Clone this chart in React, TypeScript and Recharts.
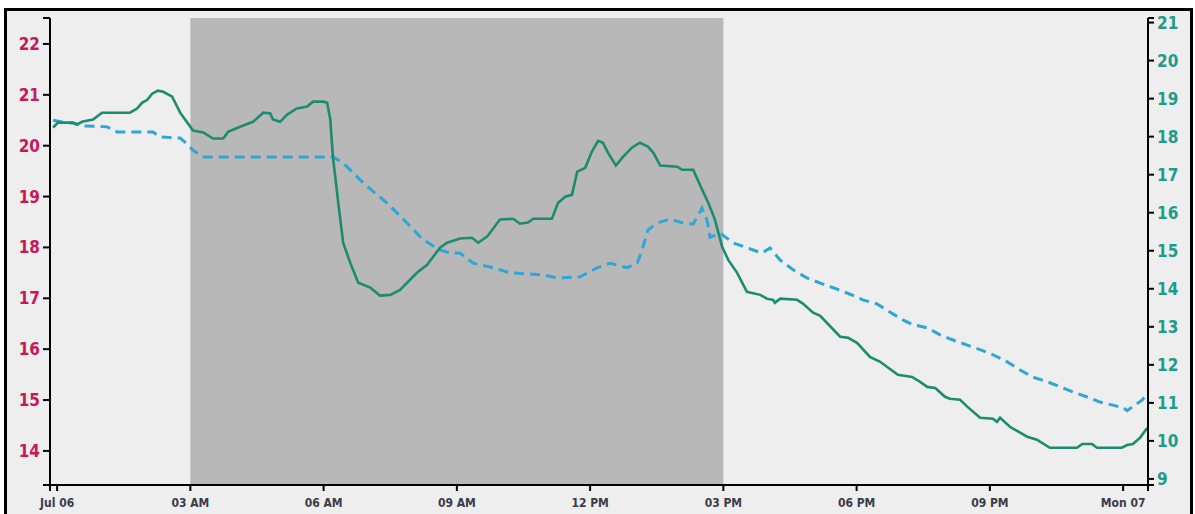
import React from 'react';
import { ComposedChart, Line, XAxis, YAxis, ReferenceArea } from 'recharts';

// Hours since Jul 06 00:00
const xTickHours = [0, 3, 6, 9, 12, 15, 18, 21, 24];
const xTickLabels = ['Jul 06', '03 AM', '06 AM', '09 AM', '12 PM', '03 PM', '06 PM', '09 PM', 'Mon 07'];
const leftTicks = [14, 15, 16, 17, 18, 19, 20, 21, 22];
const rightTicks = [9, 10, 11, 12, 13, 14, 15, 16, 17, 18, 19, 20, 21];

const xDomain: [number, number] = [-0.16, 24.56];
const leftDomain: [number, number] = [13.33, 22.51];
const rightDomain: [number, number] = [8.84, 21.12];

const shadeStart = 3;
const shadeEnd = 15;

// Solid green series (right axis)
const greenHours = [
  -0.09, 0.02, 0.36, 0.45, 0.56, 0.81, 1.01, 1.64, 1.8, 1.91, 2.03, 2.14, 2.27, 2.39, 2.59, 2.77, 2.93,
  3.06, 3.29, 3.51, 3.74, 3.85, 4.12, 4.41, 4.64, 4.8, 4.86, 5.02, 5.18, 5.4, 5.63, 5.76, 5.99, 6.08,
  6.15, 6.21, 6.33, 6.44, 6.6, 6.78, 7.05, 7.27, 7.5, 7.72, 8.1, 8.33, 8.62, 8.78, 9.07, 9.34, 9.48,
  9.68, 9.97, 10.27, 10.42, 10.6, 10.72, 11.14, 11.28, 11.44, 11.59, 11.71, 11.89, 12.04, 12.18, 12.29,
  12.4, 12.58, 12.74, 12.94, 13.12, 13.3, 13.42, 13.58, 13.96, 14.07, 14.32, 14.52, 14.66, 14.81, 14.97,
  15.11, 15.31, 15.53, 15.83, 15.98, 16.12, 16.16, 16.28, 16.66, 16.79, 17.02, 17.18, 17.63, 17.81,
  18.01, 18.3, 18.53, 18.75, 18.93, 19.25, 19.43, 19.59, 19.77, 19.99, 20.1, 20.33, 20.49, 20.78,
  21.07, 21.16, 21.23, 21.45, 21.84, 22.06, 22.35, 22.96, 23.08, 23.3, 23.41, 23.97, 24.09, 24.22,
  24.38, 24.54,
];
const greenValues = [
  18.24, 18.37, 18.37, 18.32, 18.39, 18.45, 18.63, 18.63, 18.74, 18.89, 18.97, 19.13, 19.21, 19.18,
  19.05, 18.63, 18.37, 18.16, 18.11, 17.95, 17.95, 18.13, 18.26, 18.39, 18.63, 18.61, 18.45, 18.39,
  18.58, 18.74, 18.79, 18.92, 18.92, 18.89, 18.45, 17.47, 16.26, 15.21, 14.68, 14.16, 14.03, 13.82,
  13.84, 13.97, 14.42, 14.63, 15.08, 15.21, 15.32, 15.34, 15.21, 15.37, 15.82, 15.84, 15.71, 15.74,
  15.84, 15.84, 16.26, 16.42, 16.47, 17.08, 17.18, 17.61, 17.89, 17.84, 17.58, 17.24, 17.47, 17.71,
  17.84, 17.74, 17.58, 17.24, 17.21, 17.13, 17.13, 16.61, 16.26, 15.82, 15.11, 14.76, 14.42, 13.92,
  13.84, 13.74, 13.71, 13.63, 13.74, 13.71, 13.61, 13.37, 13.29, 12.74, 12.71, 12.58, 12.21, 12.08,
  11.89, 11.74, 11.68, 11.55, 11.42, 11.39, 11.16, 11.11, 11.08, 10.9, 10.61, 10.58, 10.5, 10.61,
  10.37, 10.11, 10.03, 9.82, 9.82, 9.92, 9.92, 9.82, 9.82, 9.89, 9.92, 10.08, 10.34,
];

// Dashed blue series (left axis)
const blueHours = [
  -0.09, 0.14, 0.36, 0.59, 1.13, 1.35, 2.16, 2.32, 2.77, 2.93, 3.06, 3.29, 3.51, 6.21, 6.44, 6.89, 7.43,
  7.88, 8.24, 8.62, 8.85, 9.07, 9.37, 9.82, 10.2, 10.94, 11.26, 11.77, 12.16, 12.45, 12.83, 13.06,
  13.17, 13.3, 13.51, 13.8, 14.09, 14.32, 14.52, 14.63, 14.7, 14.93, 15.22, 15.67, 15.87, 16.05, 16.28,
  16.57, 16.88, 17.18, 17.56, 17.85, 18.14, 18.46, 18.75, 19.05, 19.27, 19.59, 19.88, 20.17, 20.49,
  20.78, 21.07, 21.39, 21.68, 21.97, 22.29, 22.58, 22.87, 23.19, 23.48, 23.86, 23.99, 24.09, 24.27,
  24.43, 24.56,
];
const blueValues = [
  20.5, 20.46, 20.44, 20.39, 20.37, 20.27, 20.27, 20.17, 20.15, 20.03, 19.91, 19.78, 19.78, 19.78,
  19.66, 19.27, 18.87, 18.48, 18.15, 17.95, 17.89, 17.89, 17.69, 17.6, 17.5, 17.46, 17.4, 17.42, 17.6,
  17.69, 17.6, 17.69, 17.95, 18.34, 18.48, 18.56, 18.48, 18.46, 18.77, 18.54, 18.2, 18.28, 18.09,
  17.95, 17.89, 17.99, 17.75, 17.56, 17.4, 17.3, 17.18, 17.08, 16.97, 16.89, 16.73, 16.57, 16.48,
  16.42, 16.28, 16.18, 16.08, 15.99, 15.89, 15.75, 15.59, 15.45, 15.36, 15.26, 15.16, 15.06, 14.96,
  14.88, 14.86, 14.79, 14.9, 15.0, 15.16,
];

const greenData = greenHours.map((h, i) => ({ h, v: greenValues[i] }));
const blueData = blueHours.map((h, i) => ({ h, v: blueValues[i] }));

const FONT = "'DejaVu Sans Condensed', 'Liberation Sans Narrow', Roboto, 'DejaVu Sans', sans-serif";

const xTicksAll = [xDomain[0], ...xTickHours, xDomain[1]];
const leftTicksAll = [leftDomain[0], ...leftTicks, leftDomain[1]];
const rightTicksAll = [rightDomain[0], ...rightTicks, rightDomain[1]];

const xFmt = (v: number) => {
  const i = xTickHours.indexOf(v);
  return i >= 0 ? xTickLabels[i] : '';
};
const yFmt = (ticks: number[]) => (v: number) => (ticks.includes(v) ? String(v) : '');

export default function App() {
  return (
    <div style={{ position: 'absolute', left: 0, top: 0, width: 1195, height: 514, overflow: 'hidden', background: '#ffffff' }}>
      <div
        style={{
          position: 'absolute',
          left: 4,
          top: 8,
          width: 1189,
          height: 530,
          boxSizing: 'border-box',
          border: '3px solid #000',
          background: '#EEEEEE',
        }}
      />
      <div style={{ position: 'absolute', left: 0, top: 0 }}>
        <ComposedChart width={1195} height={514} margin={{ top: 18, right: 0, bottom: 0, left: 0 }}>
          <XAxis
            dataKey="h"
            type="number"
            domain={xDomain}
            allowDataOverflow
            ticks={xTicksAll}
            interval={0}
            tickFormatter={xFmt}
            height={29}
            axisLine={{ stroke: '#000', strokeWidth: 2 }}
            tickLine={{ stroke: '#000', strokeWidth: 2 }}
            tickSize={6}
            tickMargin={7}
            tick={{ fill: '#3b3b4a', fontSize: 12, fontFamily: FONT, fontWeight: 'bold' }}
          />
          <YAxis
            yAxisId="left"
            orientation="left"
            type="number"
            domain={leftDomain}
            allowDataOverflow
            ticks={leftTicksAll}
            interval={0}
            tickFormatter={yFmt(leftTicks)}
            width={50}
            axisLine={{ stroke: '#000', strokeWidth: 2 }}
            tickLine={{ stroke: '#000', strokeWidth: 2 }}
            tickSize={7}
            tickMargin={3}
            tick={{ fill: '#C8175A', fontSize: 17, fontFamily: FONT, fontWeight: 'bold' }}
          />
          <YAxis
            yAxisId="right"
            orientation="right"
            type="number"
            domain={rightDomain}
            allowDataOverflow
            ticks={rightTicksAll}
            interval={0}
            tickFormatter={yFmt(rightTicks)}
            width={47}
            axisLine={{ stroke: '#000', strokeWidth: 2 }}
            tickLine={{ stroke: '#000', strokeWidth: 2 }}
            tickSize={6}
            tickMargin={3}
            tick={{ fill: '#1E9C8A', fontSize: 17, fontFamily: FONT, fontWeight: 'bold' }}
          />
          <ReferenceArea
            yAxisId="left"
            x1={shadeStart}
            x2={shadeEnd}
            fill="#B8B8B8"
            fillOpacity={1}
            stroke="none"
            ifOverflow="extendDomain"
          />
          <Line
            yAxisId="left"
            data={blueData}
            dataKey="v"
            type="linear"
            stroke="#2EA6D6"
            strokeWidth={3}
            strokeDasharray="10 6"
            dot={false}
            isAnimationActive={false}
          />
          <Line
            yAxisId="right"
            data={greenData}
            dataKey="v"
            type="linear"
            stroke="#1B8C70"
            strokeWidth={2.6}
            dot={false}
            isAnimationActive={false}
          />
        </ComposedChart>
      </div>
    </div>
  );
}
